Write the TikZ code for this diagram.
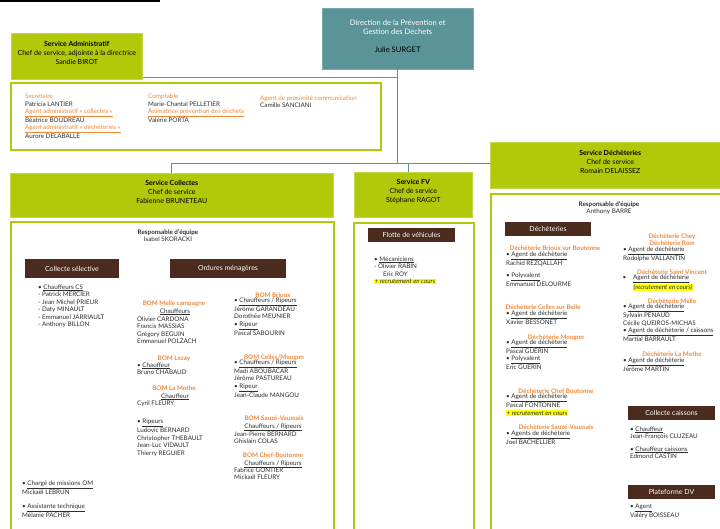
\documentclass[tikz,border=0pt]{standalone}
\usepackage{fontspec}
\setmainfont{Lato}
\definecolor{svcgreen}{RGB}{178,201,10}
\definecolor{dirteal}{RGB}{90,148,152}
\definecolor{tagbrown}{RGB}{74,43,29}
\definecolor{roleorange}{RGB}{240,136,58}
\definecolor{namegrey}{RGB}{45,45,45}
\definecolor{markyel}{RGB}{255,255,20}
\newcommand\uln[1]{\underline{#1}}
\newcommand\markyellow[1]{{\setlength{\fboxsep}{0.5pt}\colorbox{markyel}{#1}}}
\newcommand\chartfont{\fontsize{6.3}{7.5}\selectfont}
\newcommand\svcfont{\fontsize{7}{9}\selectfont}
\begin{document}
\begin{tikzpicture}[x=1pt,y=-1pt,
  svcbox/.style={fill=svcgreen, draw=svcgreen!75!white, line width=0.6pt, anchor=north west, align=center, font=\svcfont, text=black, inner sep=0pt},
  panel/.style={draw=svcgreen, line width=1.5pt, fill=white, anchor=north west, inner sep=0pt},
  teambox/.style={fill=tagbrown, text=white, font=\fontsize{7}{8}\selectfont, inner sep=0pt},
  rolehead/.style={anchor=base, inner sep=0pt, font=\chartfont\bfseries, text=roleorange, align=center},
  people/.style={anchor=base west, inner sep=0pt, font=\chartfont, text=namegrey, align=left},
  subhead/.style={anchor=base, inner sep=0pt, font=\chartfont, text=namegrey, align=center},
  teallink/.style={draw=dirteal, line width=1.1pt}]
\useasboundingbox (0,0) rectangle (720,528);
\clip (0,0) rectangle (720,528);
\draw[line width=2pt] (0,1) -- (160,1);
% Direction and services
\node[anchor=north west, fill=dirteal, draw=dirteal!80!white, minimum width=151pt, minimum height=61pt, inner sep=0pt, align=center, text=white, font=\fontsize{7.6}{9.3}\selectfont] (dir) at (322,8) {Direction de la Prévention et\\Gestion des Déchets\\[9pt]\textcolor{black}{Julie SURGET}\\[-3.9pt]\mbox{}};
\node[svcbox, minimum width=131pt, minimum height=46pt] (admin) at (11,33) {\textbf{Service Administratif}\\Chef de service, adjointe à la directrice\\Sandie BIROT\\[-2pt]\mbox{}};
\node[svcbox, minimum width=323pt, minimum height=44pt] (collsvc) at (10,173) {\textbf{Service Collectes}\\Chef de service\\Fabienne BRUNETEAU\\[-2pt]\mbox{}};
\node[svcbox, minimum width=118pt, minimum height=45pt] (fvsvc) at (354,172) {\textbf{Service FV}\\Chef de service\\Stéphane RAGOT\\[-2pt]\mbox{}};
\node[svcbox, minimum width=240pt, minimum height=46pt] (dechsvc) at (490,142) {\textbf{Service Déchèteries}\\Chef de service\\Romain DELAISSEZ\\[-2pt]\mbox{}};
% Links
\coordinate (bus) at ([yshift=2pt]dechsvc.west);
\coordinate (fvdrop) at ([xshift=-5pt]fvsvc.north);
\draw[teallink] (dir.south) |- ([yshift=2pt]admin.south east);
\draw[teallink] (dir.south) -- (dir.south |- bus);
\draw[teallink] (collsvc.north) |- (bus);
\draw[teallink] (fvdrop) -- (fvdrop |- bus);
% Panels
\node[panel, minimum width=370pt, minimum height=67pt] (admpanel) at (10,82) {};
\node[panel, minimum width=323pt, minimum height=330pt] (collpanel) at (10,221) {};
\node[panel, minimum width=120pt, minimum height=330pt] (fvpanel) at (353,222) {};
\node[panel, minimum width=240pt, minimum height=350pt] (dechpanel) at (490,193) {};
% Administratif (people nodes sit on their last line)
\node[people] (adm1) at (25,138.5) {\textcolor{roleorange}{Secrétaire}\\Patricia LANTIER\\\textcolor{roleorange}{\uln{Agent administratif « collectes »}}\\Béatrice BOUDREAU\\\textcolor{roleorange}{\uln{Agent administratif « déchèteries »}}\\Aurore DELABALLE};
\node[people] (adm2) at (148,122.5) {\textcolor{roleorange}{Comptable}\\Marie-Chantal PELLETIER\\\textcolor{roleorange}{\uln{Animatrice prévention des déchets}}\\Valérie PORTA};
\node[people] (adm3) at (260,107.5) {\textcolor{roleorange}{Agent de proximité communication}\\Camille SANCIANI};
% Collectes
\node[subhead] (collresp) at (168,241.5) {\textbf{Responsable d'équipe}\\Isabel SKORACKI};
\node[teambox, minimum width=94pt, minimum height=19pt] (cstag) at (72,268.5) {Collecte sélective};
\node[teambox, minimum width=116pt, minimum height=19pt] (omtag) at (228,268.5) {Ordures ménagères};
\node[people] (cslist) at (38,326.5) {• \uln{Chauffeurs CS}\\- Patrick MERCIER\\- Jean Michel PRIEUR\\- Daty MINAULT\\- Emmanuel JARRIAULT\\- Anthony BILLON};
\node[people] (omcharge) at (22,494.5) {• \uln{Chargé de missions OM}\\Mickaël LEBRUN};
\node[people] (omassist) at (22,517.5) {• \uln{Assistante technique}\\Mélanie PACHER};
  % BOM left
  \node[rolehead] (mellehd) at (174,305) {BOM Melle campagne};
  \node[subhead] (mellesub) at (175,313) {\uln{Chauffeurs}};
  \node[people] (mellelist) at (137,343.5) {Olivier CARDONA\\Francis MASSIAS\\Grégory BEGUIN\\Emmanuel POLZACH};
  \node[rolehead] (lezayhd) at (174,360) {BOM Lezay};
  \node[people] (lezaylist) at (137,374.5) {• \uln{Chauffeur}\\Bruno CHABAUD};
  \node[rolehead] (mothehd) at (174,390) {BOM La Mothe};
  \node[subhead] (mothesub) at (175,398) {\uln{Chauffeur}};
  \node[people] (mothelist) at (137,405) {Cyril FLEURY};
  \node[people] (ripeurs) at (137,455) {• \uln{Ripeurs}\\Ludovic BERNARD\\Christopher THEBAULT\\Jean-Luc VIDAULT\\Thierry REGUIER};
  % BOM right
  \node[rolehead] (briouxhd) at (273,297) {BOM Brioux};
  \node[people] (briouxlist) at (234,335) {• \uln{Chauffeurs / Ripeurs}\\Jérôme GARANDEAU\\Dorothée MEUNIER\\• \uln{Ripeur}\\Pascal SABOURIN};
  \node[rolehead] (celleshd) at (274,359) {BOM Celles/Mougon};
  \node[people] (celleslist) at (234,397) {• \uln{Chauffeurs / Ripeurs}\\Madi ABOUBACAR\\Jérôme PASTUREAU\\• \uln{Ripeur}\\Jean-Claude MANGOU};
  \node[rolehead] (sauzehd) at (274,420) {BOM Sauzé-Vaussais};
  \node[subhead] (sauzesub) at (273,428) {\uln{Chauffeurs / Ripeurs}};
  \node[people] (sauzelist) at (234,443.5) {Jean-Pierre BERNARD\\Ghislain COLAS};
  \node[rolehead] (chefhd) at (273,457) {BOM Chef-Boutonne};
  \node[subhead] (chefsub) at (273,465) {\uln{Chauffeurs / Ripeurs}};
  \node[people] (cheflist) at (234,479.5) {Fabrice GONTIER\\Mickaël FLEURY};
% FV
\node[teambox, minimum width=87pt, minimum height=14pt] (fvtag) at (411.5,235) {Flotte de véhicules};
\node[people] (fvlist) at (374,283.5) {• \uln{Mécaniciens}\\- Olivier RABIN\\\hspace*{9pt}Eric ROY\\\markyellow{\textit{+ recrutement en cours}}};
% Decheteries
\node[subhead] (dechresp) at (609,213.5) {\textbf{Responsable d'équipe}\\Anthony BARRE};
\node[teambox, minimum width=86pt, minimum height=14pt] (dechtag) at (548,229) {Déchèteries};
  % left column
  \node[rolehead] (briouxdhd) at (555,250) {Déchèterie Brioux sur Boutonne};
  \node[people] (briouxd1) at (506,265.5) {• \uln{Agent de déchèterie}\\Rachid REZQALLAH};
  \node[people] (briouxd2) at (506,286.5) {• \uln{Polyvalent}\\Emmanuel DELOURME};
  \node[rolehead] (cellesdhd) at (543,309) {Déchèterie Celles sur Belle};
  \node[people] (cellesd) at (506,324.5) {• \uln{Agent de déchèterie}\\Xavier BESSONET};
  \node[rolehead] (mougonhd) at (556,339) {Déchèterie Mougon};
  \node[people] (mougon) at (506,369.5) {• \uln{Agent de déchèterie}\\Pascal GUERIN\\• \uln{Polyvalent}\\Eric GUERIN};
  \node[rolehead] (chefdhd) at (556,393) {Déchèterie Chef Boutonne};
  \node[people] (chefd) at (506,415) {• \uln{Agent de déchèterie}\\Pascal FONTONNE\\\markyellow{\textit{+ recrutement en cours}}};
  \node[rolehead] (sauzedhd) at (556,429) {Déchèterie Sauzé-Vaussais};
  \node[people] (sauzed) at (506,444.5) {• \uln{Agents de déchèterie}\\Joel BACHELLIER};
  % right column
  \node[rolehead] (cheyhd) at (672,245.5) {Déchèterie Chey\\Déchèterie Rom};
  \node[people] (chey) at (623,260.5) {• \uln{Agent de déchèterie}\\Rodolphe VALLANTIN};
  \node[rolehead] (vincenthd) at (672,274) {Déchèterie Saint Vincent};
  \node[people] (vincent) at (633,289.5) {\llap{•\hspace{7pt}}\uln{Agent de déchèterie}\\\markyellow{\textit{(recrutement en cours)}}};
  \node[rolehead] (mellehd2) at (672,303) {Déchèterie Melle};
  \node[people] (melled) at (623,341.5) {• \uln{Agent de déchèterie}\\Sylvain PENAUD\\Cécile QUEIROS-MICHAS\\• \uln{Agent de déchèterie / caissons}\\Martial BARRAULT};
  \node[rolehead] (mothedhd) at (672,356) {Déchèterie La Mothe};
  \node[people] (mothed) at (623,371.5) {• \uln{Agent de déchèterie}\\Jérôme MARTIN};
  % caissons and DV
  \node[teambox, minimum width=87pt, minimum height=14pt] (caisstag) at (671.5,413) {Collecte caissons};
  \node[people] (caiss1) at (630,438.5) {• \uln{Chauffeur}\\Jean-François CLUZEAU};
  \node[people] (caiss2) at (630,458.5) {• \uln{Chauffeur caissons}\\Edmond CASTIN};
  \node[teambox, minimum width=87pt, minimum height=14pt] (dvtag) at (671.5,492) {Plateforme DV};
  \node[people] (dvlist) at (630,517.5) {• \uln{Agent}\\Valéry BOISSEAU};
\end{tikzpicture}
\end{document}
